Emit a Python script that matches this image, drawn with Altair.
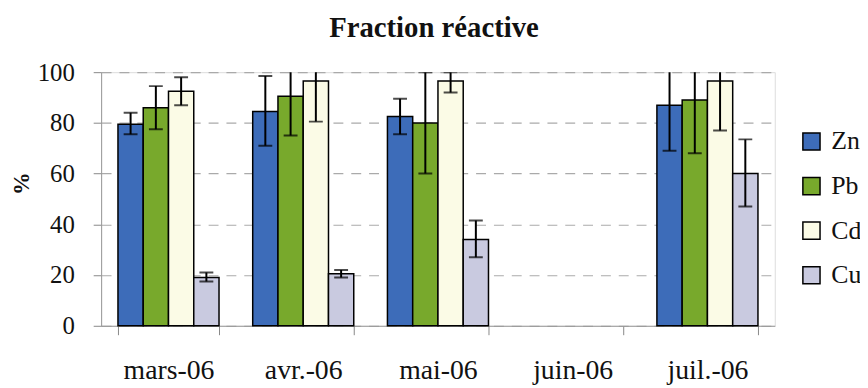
import altair as alt
import pandas as pd

months = ["mars-06", "avr.-06", "mai-06", "juin-06", "juil.-06"]
metals = ["Zn", "Pb", "Cd", "Cu"]
colors = ["#3D6CB9", "#78A92C", "#FBFBE6", "#C9CAE0"]

# values per month (juin-06 has no data)
data_months = ["mars-06", "avr.-06", "mai-06", "juil.-06"]
zn = [79.5, 84.5, 82.5, 87.0]
pb = [86.0, 90.5, 80.0, 89.0]
cd = [92.5, 96.5, 96.5, 96.5]
cu = [19.0, 20.5, 34.0, 60.0]
zn_lo = [75.5, 71.0, 75.5, 69.0]
zn_hi = [84.0, 98.5, 89.5, 105.0]
pb_lo = [77.5, 75.0, 60.0, 68.0]
pb_hi = [94.5, 106.0, 100.0, 110.0]
cd_lo = [87.0, 80.5, 92.0, 77.0]
cd_hi = [98.0, 112.5, 100.0, 116.0]
cu_lo = [17.5, 19.0, 27.0, 47.0]
cu_hi = [21.0, 22.0, 41.5, 73.5]

rows = []
for i, m in enumerate(data_months):
    for metal, v, lo, hi in [
        ("Zn", zn[i], zn_lo[i], zn_hi[i]),
        ("Pb", pb[i], pb_lo[i], pb_hi[i]),
        ("Cd", cd[i], cd_lo[i], cd_hi[i]),
        ("Cu", cu[i], cu_lo[i], cu_hi[i]),
    ]:
        rows.append({"mois": m, "metal": metal, "val": v, "lo": lo, "hi": hi})
df = pd.DataFrame(rows)

FONT = "'Liberation Serif', 'Times New Roman', 'DejaVu Serif', serif"

x_enc = alt.X(
    "mois:N",
    sort=months,
    scale=alt.Scale(domain=months, paddingInner=0.25, paddingOuter=0.125),
    axis=alt.Axis(
        title=None,
        labelAngle=0,
        labelFont=FONT,
        labelFontSize=28,
        labelColor="#111111",
        labelPadding=44,
        labelBaseline="alphabetic",
        tickBand="extent",
        tickSize=9,
        tickColor="#888888",
        domainColor="#999999",
        grid=False,
    ),
)
xoff = alt.XOffset("metal:N", sort=metals, scale=alt.Scale(domain=metals, paddingInner=0, paddingOuter=0))

y_scale = alt.Scale(domain=[0, 100], nice=False)

bars = alt.Chart(df).mark_bar(stroke="black", strokeWidth=1.5).encode(
    x=x_enc,
    xOffset=xoff,
    y=alt.Y(
        "val:Q",
        scale=y_scale,
        axis=alt.Axis(
            title="%",
            titleFont=FONT,
            titleFontSize=23,
            titleFontWeight="bold",
            titleAngle=270,
            titleX=-80,
            titleY=112,
            titleAlign="center",
            titleBaseline="middle",
            titleColor="#111111",
            values=[0, 20, 40, 60, 80, 100],
            labelFont=FONT,
            labelFontSize=25,
            labelColor="#111111",
            labelPadding=19,
            labelBaseline="middle",
            tickSize=8,
            tickColor="#888888",
            domainColor="#999999",
            grid=True,
            gridDash=[10, 8],
            gridColor="#aaaaaa",
            gridWidth=1.2,
        ),
    ),
    fill=alt.Fill(
        "metal:N",
        sort=metals,
        scale=alt.Scale(domain=metals, range=colors),
        legend=alt.Legend(
            title=None,
            orient="none",
            legendX=704,
            legendY=57,
            symbolType="square",
            symbolSize=300,
            symbolStrokeColor="black",
            symbolStrokeWidth=1.5,
            labelFont=FONT,
            labelFontSize=26,
            labelColor="#111111",
            labelOffset=7,
            rowPadding=19,
            padding=0,
        ),
    ),
)

rules = alt.Chart(df).mark_rule(color="black", strokeWidth=2, clip=True).encode(
    x=alt.X("mois:N", sort=months),
    xOffset=alt.XOffset("metal:N", sort=metals),
    y=alt.Y("lo:Q", scale=y_scale),
    y2="hi:Q",
)

caps_lo = alt.Chart(df).mark_tick(color="black", size=14, thickness=2, clip=True, orient="horizontal").encode(
    x=alt.X("mois:N", sort=months),
    xOffset=alt.XOffset("metal:N", sort=metals),
    y=alt.Y("lo:Q", scale=y_scale),
)
caps_hi = alt.Chart(df).mark_tick(color="black", size=14, thickness=2, clip=True, orient="horizontal").encode(
    x=alt.X("mois:N", sort=months),
    xOffset=alt.XOffset("metal:N", sort=metals),
    y=alt.Y("hi:Q", scale=y_scale),
)

chart = (
    alt.layer(bars, rules, caps_lo, caps_hi)
    .properties(
        width=680,
        height=256,
        title=alt.Title(
            "Fraction réactive",
            font=FONT,
            fontSize=29,
            fontWeight="bold",
            color="#111111",
            anchor="middle",
            frame="group",
            dx=-4,
            offset=17,
        ),
        autosize=alt.AutoSizeParams(type="none"),
        padding={"left": 94, "top": 63, "right": 86, "bottom": 58},
    )
    .configure_view(stroke=None)
    .configure(background="white")
)

chart.save("out.html", embed_options={"renderer": "svg", "actions": False})
